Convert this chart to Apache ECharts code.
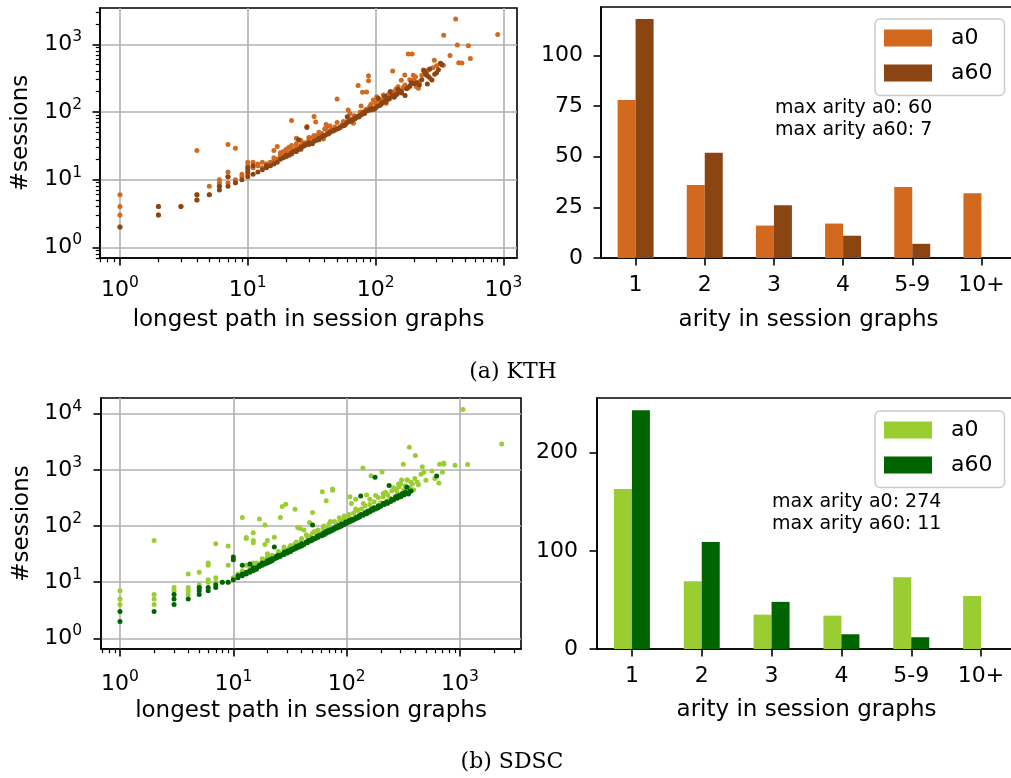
<!DOCTYPE html>
<html><head><meta charset="utf-8">
<script src="https://cdn.jsdelivr.net/npm/echarts@6/dist/echarts.min.js"></script>
<style>html,body{margin:0;padding:0;background:#fff;}#c{width:1011px;height:778px;}</style>
</head><body><div id="c"></div>
<script>
const FONT = 'DejaVu Sans';
const SERIF = 'DejaVu Serif';

// ---- bar data ----
const arityCategories = ['1', '2', '3', '4', '5-9', '10+'];
const kthArityA0 = [78, 36, 16, 17, 35, 32];
const kthArityA60 = [118, 52, 26, 11, 7, 0];
const sdscArityA0 = [163, 69, 35, 34, 73, 54];
const sdscArityA60 = [243, 109, 48, 15, 12, 0];
const kthNote = 'max arity a0: 60\nmax arity a60: 7';
const sdscNote = 'max arity a0: 274\nmax arity a60: 11';
const kthBarTicks = [0, 25, 50, 75, 100];
const sdscBarTicks = [0, 100, 200];

// ---- tick values ----
const logMajorTicks = [1, 10, 100, 1000, 10000];
const logMinorTicks = [0.7, 0.8, 0.9, 2, 3, 4, 5, 6, 7, 8, 9, 20, 30, 40, 50, 60, 70, 80, 90,
  200, 300, 400, 500, 600, 700, 800, 900, 2000, 3000, 4000, 5000, 6000, 7000, 8000, 9000];

// ---- scatter data: [longest path, #sessions] ----
const kthPathA0 = [
[1,6],[1,4],[1,3],[1,2],[2,4],[2,3],[3,4],[4,27],[4,6],[4,5],[5,8],[5,6],
[6,10],[6,9],[6,8],[7,33],[7,13],[7,11],[7,9],[8,29],[8,10],[8,9],[9,12],[9,11],
[10,18],[10,16],[10,14],[10,12],[11,18],[11,15],[12,17],[12,16],[13,18],[13,15],[14,17],
[15,18],[15,16],[16,27],[16,19],[16,21],[17,31],[17,20],[18,22],[18,23],[18,25],[19,24],[19,26],[20,25],[20,28],
[21,30],[21,25],[22,75],[22,28],[22,32],[23,27],[24,41],[24,30],[24,34],[26,32],[26,38],[27,33],[28,35],[29,61],[30,38],[30,42],
[32,42],[33,86],[33,45],[34,71],[35,45],[36,50],[37,46],[38,48],[39,40],[40,56],[41,65],[41,59],[42,52],[44,62],[45,55],[48,60],
[50,156],[50,70],[52,58],[55,65],[56,72],[60,72],[61,107],[62,80],[63,95],[65,78],[67,68],[68,88],[70,85],[73,245],[75,90],[76,100],[77,122],
[79,195],[80,100],[84,110],[85,198],[88,344],[88,290],[90,120],[92,130],[96,150],[100,135],[102,168],[105,150],[108,150],[110,140],
[115,178],[115,155],[120,165],[121,134],[125,180],[130,175],[135,190],[136,403],[137,168],[140,200],[145,220],[150,236],[159,295],[160,210],
[165,230],[169,351],[170,250],[180,720],[185,300],[190,260],[193,720],[197,350],[200,300],[205,330],[209,236],[216,224],[220,280],
[230,350],[236,417],[240,400],[245,372],[250,380],[260,420],[267,315],[280,450],[288,580],[300,480],[320,520],[339,490],
[341,1358],[382,680],[423,2367],[436,977],[447,535],[473,530],[532,955],[551,614],[902,1390]
];
const kthPathA60 = [
[1,2],[2,4],[2,3],[3,4],[4,6],[4,5],[5,6],[6,8],[6,7],[7,11],[7,8],[8,9],[9,10],[10,15],[10,13],[10,11],
[11,16],[11,12],[12,13],[13,14],[14,16],[14,15],[15,16],[16,17],[17,18],[18,20],[19,21],[20,22],[20,23],[21,23],
[22,25],[22,24],[23,26],[24,27],[24,26],[25,39],[25,28],[26,30],[26,28],[27,31],[28,32],[28,33],[29,59],[30,33],[30,35],
[32,35],[32,34],[33,37],[34,38],[35,39],[36,41],[36,39],[38,43],[39,44],[40,45],[42,47],[43,48],[44,50],[46,52],[47,53],
[48,54],[50,56],[52,58],[53,60],[55,62],[57,63],[58,65],[60,85],[60,70],[62,72],[64,73],[65,75],[68,78],[69,80],[70,82],
[72,85],[74,84],[75,88],[78,92],[80,98],[82,95],[85,103],[88,105],[90,110],[93,108],[95,112],[98,110],[100,115],[103,120],
[105,160],[108,125],[110,130],[112,135],[115,140],[118,170],[120,140],[122,150],[126,160],[128,155],[130,200],[135,175],
[138,170],[140,165],[145,180],[148,185],[150,215],[158,200],[160,190],[170,175],[175,220],[180,230],[185,240],[190,270],
[200,260],[210,270],[220,250],[230,300],[240,410],[245,380],[250,350],[254,259],[260,330],[265,430],[276,297],[290,360],
[300,380],[310,420],[323,523],[330,500]
];
const sdscPathA0 = [
[1,7],[1,5],[1,4],[2,55],[2,6],[2,5],[2,4],[3,8],[3,7],[4,14],[4,8],[4,7],[4,6],[5,15],[5,9],[5,8],
[6,22],[6,20],[6,11],[6,10],[7,48],[7,12],[7,10],[8,10],[9,44],[9,20],[9,10],[10,12],[10,11],
[11,14],[11,13],[12,141],[12,16],[12,14],[13,62],[13,60],[13,20],[14,17],[14,19],[15,76],[15,55],[15,50],[15,22],[16,19],[16,22],
[17,133],[17,21],[18,23],[18,26],[19,104],[19,47],[19,25],[20,55],[20,28],[20,32],[21,24],[22,30],[22,27],[23,63],[24,29],
[25,35],[25,33],[26,141],[26,31],[27,221],[28,38],[28,42],[29,243],[30,36],[31,40],[32,45],[34,40],[35,198],[35,48],[36,52],[37,94],
[38,45],[39,90],[40,60],[40,55],[42,85],[42,50],[44,70],[45,65],[47,115],[48,56],[48,66],[50,173],[50,75],[52,80],[53,62],[56,85],
[57,75],[60,70],[61,408],[62,90],[63,100],[66,282],[66,78],[68,95],[70,110],[72,120],[74,86],[75,456],[75,434],[78,120],[80,115],[82,95],
[86,140],[88,125],[90,105],[95,130],[95,150],[100,118],[105,160],[105,140],[107,332],[110,130],[110,250],[115,170],[120,200],[120,300],
[125,190],[130,160],[135,200],[139,1078],[140,250],[145,230],[150,357],[150,180],[160,300],[160,240],[164,787],[170,210],[175,270],[180,350],
[190,320],[200,260],[205,915],[210,380],[210,330],[220,400],[230,360],[240,310],[250,420],[260,480],[270,450],[275,437],[280,380],
[287,560],[290,500],[300,560],[305,660],[316,1253],[320,440],[330,520],[340,660],[344,660],[357,2520],[360,480],[370,600],[380,560],
[390,440],[400,700],[404,1790],[420,600],[430,540],[453,830],[465,1138],[480,900],[500,650],[566,952],[600,700],[650,580],[661,1260],
[700,900],[718,1320],[720,1250],[903,1203],[1063,11800],[1169,1246],[2333,2885]
];
const sdscPathA60 = [
[1,3],[1,2],[2,3],[3,6],[3,5],[3,4],[4,5],[5,8],[5,7],[5,6],[6,8],[6,7],[7,9],[7,8],[8,10],[9,10],
[10,28],[10,25],[10,11],[11,12],[11,13],[12,20],[12,13],[12,14],[13,14],[13,15],[14,21],[14,15],[14,16],[15,16],[15,18],
[16,18],[16,17],[17,19],[17,20],[18,20],[18,22],[19,21],[19,22],[20,22],[20,24],[21,23],[21,25],[22,24],[22,26],[23,42],
[23,26],[24,27],[24,29],[25,28],[25,30],[26,29],[27,31],[28,31],[28,34],[30,33],[30,36],[32,35],[32,38],[34,38],[34,40],
[36,40],[36,43],[38,42],[38,45],[40,44],[40,48],[42,47],[44,52],[45,50],[46,55],[48,54],[50,104],[50,56],[50,60],[53,60],
[55,66],[56,63],[58,68],[60,67],[62,74],[63,70],[65,78],[66,74],[68,82],[70,78],[72,86],[74,82],[76,90],[78,87],[80,96],
[82,92],[85,102],[86,96],[90,100],[90,108],[95,106],[98,118],[100,112],[105,118],[105,125],[110,122],[112,132],[115,128],
[120,135],[120,142],[125,140],[128,150],[130,145],[133,342],[135,160],[140,155],[145,172],[150,165],[155,185],[160,178],
[165,198],[170,190],[175,210],[178,735],[180,200],[190,212],[190,230],[200,225],[210,250],[215,240],[225,270],[230,255],
[237,525],[245,272],[250,300],[260,290],[270,330],[280,310],[290,350],[300,330],[310,380],[320,355],[330,400],[340,487],
[350,380],[350,370],[360,410],[370,420],[622,777]
];

const C = { kthA0: '#d2691e', kthA60: '#8b4513', sdscA0: '#9acd32', sdscA60: '#006400' };
const BLACK = '#000';

function supLabel(v) {
  const e = Math.round(Math.log10(v));
  return '{b|10}{s|' + e + '}';
}
const richSup = {
  b: { fontFamily: FONT, fontSize: 22, lineHeight: 30, color: BLACK },
  s: { fontFamily: FONT, fontSize: 15.5, lineHeight: 16, verticalAlign: 'top', color: BLACK }
};

function logAxis(grid, min, max, pos, margin, name, nameGap) {
  return {
    type: 'log', logBase: 10, gridIndex: grid, min: min, max: max, position: pos,
    name: name, nameLocation: 'middle', nameGap: nameGap,
    nameTextStyle: { fontFamily: FONT, fontSize: 23, color: BLACK, lineHeight: 23 },
    axisLine: { show: true, lineStyle: { color: BLACK, width: 1.6 } },
    axisTick: { show: true, length: 7.5, customValues: logMajorTicks, lineStyle: { color: BLACK, width: 1.6 } },
    axisLabel: { show: true, margin: margin, customValues: logMajorTicks, formatter: supLabel, rich: richSup },
    splitLine: { show: true, lineStyle: { color: '#b0b0b0', width: 1.6 } },
    minorTick: { show: false }, minorSplitLine: { show: false }
  };
}
function minorAxis(grid, min, max, pos) {
  return {
    type: 'log', logBase: 10, gridIndex: grid, min: min, max: max, position: pos,
    axisLine: { show: false },
    axisTick: { show: true, length: 4.2, customValues: logMinorTicks, lineStyle: { color: BLACK, width: 1.2 } },
    axisLabel: { show: false },
    splitLine: { show: false }
  };
}
function catAxis(grid, name, margin, nameGap) {
  return {
    type: 'category', gridIndex: grid, data: arityCategories, position: 'bottom',
    name: name, nameLocation: 'middle', nameGap: nameGap,
    nameTextStyle: { fontFamily: FONT, fontSize: 23, color: BLACK, lineHeight: 23 },
    axisLine: { show: true, lineStyle: { color: BLACK, width: 1.6 } },
    axisTick: { show: true, alignWithLabel: true, length: 7.5, lineStyle: { color: BLACK, width: 1.6 } },
    axisLabel: { fontFamily: FONT, fontSize: 22, color: BLACK, margin: margin, interval: 0 },
    splitLine: { show: false }
  };
}
function valAxis(grid, max, ticks, margin) {
  return {
    type: 'value', gridIndex: grid, min: 0, max: max, position: 'left',
    axisLine: { show: true, lineStyle: { color: BLACK, width: 1.6 } },
    axisTick: { show: true, length: 7.5, customValues: ticks, lineStyle: { color: BLACK, width: 1.6 } },
    axisLabel: { fontFamily: FONT, fontSize: 22, color: BLACK, margin: margin, customValues: ticks },
    splitLine: { show: false }
  };
}
function legendFor(left, top, c0, c60) {
  return {
    left: left, top: top, orient: 'vertical', icon: 'rect', selectedMode: false,
    itemWidth: 48, itemHeight: 17, itemGap: 13, padding: [8, 12, 11.5, 9],
    backgroundColor: 'rgba(255,255,255,0.8)', borderColor: '#cccccc', borderWidth: 1.5, borderRadius: 5,
    textStyle: { fontFamily: FONT, fontSize: 22, color: BLACK, padding: [0, 0, 0, 14] },
    data: [{ name: 'a0', itemStyle: { color: c0 } }, { name: 'a60', itemStyle: { color: c60 } }]
  };
}
const gridBase = { show: true, borderColor: BLACK, borderWidth: 1.6, backgroundColor: 'transparent', containLabel: false, outerBoundsMode: 'none' };

const option = {
  animation: false,
  backgroundColor: '#fff',
  textStyle: { fontFamily: FONT },
  grid: [
    Object.assign({ left: 100, top: 8, width: 417, height: 250 }, gridBase),
    Object.assign({ left: 601, top: 7, width: 415, height: 251 }, gridBase),
    Object.assign({ left: 101, top: 398, width: 420, height: 251 }, gridBase),
    Object.assign({ left: 597, top: 398, width: 419, height: 251 }, gridBase)
  ],
  xAxis: [
    logAxis(0, 0.698, 1277, 'bottom', 17, 'longest path in session graphs', 51),
    minorAxis(0, 0.698, 1277, 'bottom'),
    catAxis(1, 'arity in session graphs', 16, 51),
    logAxis(2, 0.68, 3453, 'bottom', 20, 'longest path in session graphs', 51),
    minorAxis(2, 0.68, 3453, 'bottom'),
    catAxis(3, 'arity in session graphs', 16, 50)
  ],
  yAxis: [
    logAxis(0, 0.695, 3436, 'left', 18, '#sessions', 67),
    minorAxis(0, 0.695, 3436, 'left'),
    valAxis(1, 123.9, kthBarTicks, 18),
    logAxis(2, 0.645, 18970, 'left', 19, '#sessions', 67),
    valAxis(3, 255.6, sdscBarTicks, 19)
  ],
  legend: [
    legendFor(875, 19, C.kthA0, C.kthA60),
    legendFor(875, 411, C.sdscA0, C.sdscA60)
  ],
  series: [
    { type: 'scatter', name: 'KTH path a0', xAxisIndex: 0, yAxisIndex: 0, data: kthPathA0, symbolSize: 5, itemStyle: { color: C.kthA0, opacity: 1 } },
    { type: 'scatter', name: 'KTH path a60', xAxisIndex: 0, yAxisIndex: 0, data: kthPathA60, symbolSize: 5, itemStyle: { color: C.kthA60, opacity: 1 } },
    { type: 'bar', name: 'a0', xAxisIndex: 2, yAxisIndex: 2, data: kthArityA0, barWidth: 18, barGap: '0%', itemStyle: { color: C.kthA0 } },
    { type: 'bar', name: 'a60', xAxisIndex: 2, yAxisIndex: 2, data: kthArityA60, barWidth: 18, barGap: '0%', itemStyle: { color: C.kthA60 } },
    { type: 'scatter', name: 'SDSC path a0', xAxisIndex: 3, yAxisIndex: 3, data: sdscPathA0, symbolSize: 5, itemStyle: { color: C.sdscA0, opacity: 1 } },
    { type: 'scatter', name: 'SDSC path a60', xAxisIndex: 3, yAxisIndex: 3, data: sdscPathA60, symbolSize: 5, itemStyle: { color: C.sdscA60, opacity: 1 } },
    { type: 'bar', name: 'a0', xAxisIndex: 5, yAxisIndex: 4, data: sdscArityA0, barWidth: 18, barGap: '0%', itemStyle: { color: C.sdscA0 } },
    { type: 'bar', name: 'a60', xAxisIndex: 5, yAxisIndex: 4, data: sdscArityA60, barWidth: 18, barGap: '0%', itemStyle: { color: C.sdscA60 } }
  ],
  graphic: [
    { type: 'text', x: 775, y: 97, z: 100, style: { text: kthNote, fontFamily: FONT, fontSize: 19, lineHeight: 22, fill: BLACK } },
    { type: 'text', x: 772, y: 491, z: 100, style: { text: sdscNote, fontFamily: FONT, fontSize: 19, lineHeight: 22, fill: BLACK } },
    { type: 'text', x: 513, y: 372, style: { text: '(a) KTH', fontFamily: SERIF, fontSize: 22, fill: BLACK, align: 'center', verticalAlign: 'middle' } },
    { type: 'text', x: 512, y: 762, style: { text: '(b) SDSC', fontFamily: SERIF, fontSize: 22, fill: BLACK, align: 'center', verticalAlign: 'middle' } }
  ]
};
const chart = echarts.init(document.getElementById('c'), null, { renderer: 'canvas' });
chart.setOption(option);
</script></body></html>
